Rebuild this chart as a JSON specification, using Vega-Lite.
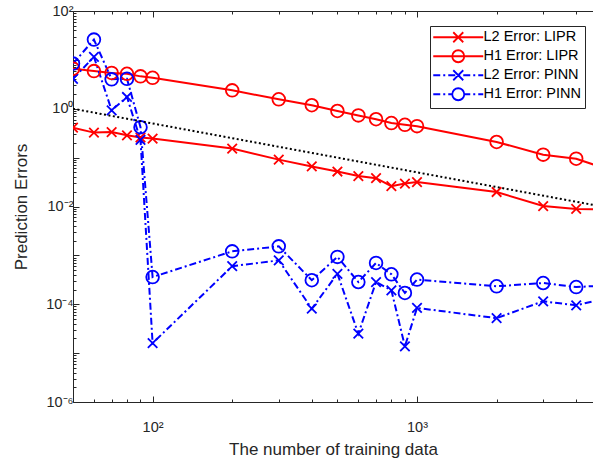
{
  "$schema": "https://vega.github.io/schema/vega-lite/v6.json",
  "width": 520,
  "height": 391,
  "autosize": {"type": "none"},
  "padding": {"left": 73, "top": 11, "right": 0, "bottom": 62},
  "background": "white",
  "config": {"view": {"stroke": null}},
  "datasets": {
    "errors": [
      {"n": 50, "err": 0.41, "series": "L2 Error: LIPR"},
      {"n": 60, "err": 0.325, "series": "L2 Error: LIPR"},
      {"n": 70, "err": 0.334, "series": "L2 Error: LIPR"},
      {"n": 80, "err": 0.286, "series": "L2 Error: LIPR"},
      {"n": 90, "err": 0.258, "series": "L2 Error: LIPR"},
      {"n": 100, "err": 0.245, "series": "L2 Error: LIPR"},
      {"n": 200, "err": 0.153, "series": "L2 Error: LIPR"},
      {"n": 300, "err": 0.091, "series": "L2 Error: LIPR"},
      {"n": 400, "err": 0.066, "series": "L2 Error: LIPR"},
      {"n": 500, "err": 0.052, "series": "L2 Error: LIPR"},
      {"n": 600, "err": 0.042, "series": "L2 Error: LIPR"},
      {"n": 700, "err": 0.038, "series": "L2 Error: LIPR"},
      {"n": 800, "err": 0.026, "series": "L2 Error: LIPR"},
      {"n": 900, "err": 0.0295, "series": "L2 Error: LIPR"},
      {"n": 1000, "err": 0.0316, "series": "L2 Error: LIPR"},
      {"n": 2000, "err": 0.0198, "series": "L2 Error: LIPR"},
      {"n": 3000, "err": 0.0102, "series": "L2 Error: LIPR"},
      {"n": 4000, "err": 0.0089, "series": "L2 Error: LIPR"},
      {"n": 5000, "err": 0.0088, "series": "L2 Error: LIPR"},
      {"n": 50, "err": 6.6, "series": "H1 Error: LIPR"},
      {"n": 60, "err": 5.9, "series": "H1 Error: LIPR"},
      {"n": 70, "err": 5.4, "series": "H1 Error: LIPR"},
      {"n": 80, "err": 5.2, "series": "H1 Error: LIPR"},
      {"n": 90, "err": 4.6, "series": "H1 Error: LIPR"},
      {"n": 100, "err": 4.3, "series": "H1 Error: LIPR"},
      {"n": 200, "err": 2.38, "series": "H1 Error: LIPR"},
      {"n": 300, "err": 1.56, "series": "H1 Error: LIPR"},
      {"n": 400, "err": 1.18, "series": "H1 Error: LIPR"},
      {"n": 500, "err": 0.9, "series": "H1 Error: LIPR"},
      {"n": 600, "err": 0.73, "series": "H1 Error: LIPR"},
      {"n": 700, "err": 0.61, "series": "H1 Error: LIPR"},
      {"n": 800, "err": 0.51, "series": "H1 Error: LIPR"},
      {"n": 900, "err": 0.47, "series": "H1 Error: LIPR"},
      {"n": 1000, "err": 0.44, "series": "H1 Error: LIPR"},
      {"n": 2000, "err": 0.209, "series": "H1 Error: LIPR"},
      {"n": 3000, "err": 0.115, "series": "H1 Error: LIPR"},
      {"n": 4000, "err": 0.095, "series": "H1 Error: LIPR"},
      {"n": 5000, "err": 0.063, "series": "H1 Error: LIPR"},
      {"n": 50, "err": 4.1, "series": "L2 Error: PINN"},
      {"n": 60, "err": 11.5, "series": "L2 Error: PINN"},
      {"n": 70, "err": 0.93, "series": "L2 Error: PINN"},
      {"n": 80, "err": 1.74, "series": "L2 Error: PINN"},
      {"n": 90, "err": 0.23, "series": "L2 Error: PINN"},
      {"n": 100, "err": 1.6e-5, "series": "L2 Error: PINN"},
      {"n": 200, "err": 6.0e-4, "series": "L2 Error: PINN"},
      {"n": 300, "err": 7.9e-4, "series": "L2 Error: PINN"},
      {"n": 400, "err": 8.1e-5, "series": "L2 Error: PINN"},
      {"n": 500, "err": 4.2e-4, "series": "L2 Error: PINN"},
      {"n": 600, "err": 2.5e-5, "series": "L2 Error: PINN"},
      {"n": 700, "err": 2.85e-4, "series": "L2 Error: PINN"},
      {"n": 800, "err": 1.93e-4, "series": "L2 Error: PINN"},
      {"n": 900, "err": 1.38e-5, "series": "L2 Error: PINN"},
      {"n": 1000, "err": 8.4e-5, "series": "L2 Error: PINN"},
      {"n": 2000, "err": 5.2e-5, "series": "L2 Error: PINN"},
      {"n": 3000, "err": 1.15e-4, "series": "L2 Error: PINN"},
      {"n": 4000, "err": 9.5e-5, "series": "L2 Error: PINN"},
      {"n": 5000, "err": 1.27e-4, "series": "L2 Error: PINN"},
      {"n": 50, "err": 8.4, "series": "H1 Error: PINN"},
      {"n": 60, "err": 26, "series": "H1 Error: PINN"},
      {"n": 70, "err": 4.0, "series": "H1 Error: PINN"},
      {"n": 80, "err": 4.1, "series": "H1 Error: PINN"},
      {"n": 90, "err": 0.42, "series": "H1 Error: PINN"},
      {"n": 100, "err": 3.6e-4, "series": "H1 Error: PINN"},
      {"n": 200, "err": 1.21e-3, "series": "H1 Error: PINN"},
      {"n": 300, "err": 1.53e-3, "series": "H1 Error: PINN"},
      {"n": 400, "err": 3.1e-4, "series": "H1 Error: PINN"},
      {"n": 500, "err": 9.3e-4, "series": "H1 Error: PINN"},
      {"n": 600, "err": 2.85e-4, "series": "H1 Error: PINN"},
      {"n": 700, "err": 7.0e-4, "series": "H1 Error: PINN"},
      {"n": 800, "err": 4.1e-4, "series": "H1 Error: PINN"},
      {"n": 900, "err": 1.7e-4, "series": "H1 Error: PINN"},
      {"n": 1000, "err": 3.2e-4, "series": "H1 Error: PINN"},
      {"n": 2000, "err": 2.33e-4, "series": "H1 Error: PINN"},
      {"n": 3000, "err": 2.72e-4, "series": "H1 Error: PINN"},
      {"n": 4000, "err": 2.25e-4, "series": "H1 Error: PINN"},
      {"n": 5000, "err": 2.4e-4, "series": "H1 Error: PINN"}
    ],
    "ref": [
      {"n": 50, "err": 1},
      {"n": 5000, "err": 0.01}
    ]
  },
  "encoding": {
    "y": {
      "field": "err",
      "type": "quantitative",
      "scale": {"type": "log", "domain": [1e-6, 100], "nice": false},
      "axis": {
        "title": "Prediction Errors",
        "grid": false,
        "values": [1e-6,2e-6,3e-6,4e-6,5e-6,6e-6,7e-6,8e-6,9e-6,1e-5,2e-5,3e-5,4e-5,5e-5,6e-5,7e-5,8e-5,9e-5,1e-4,2e-4,3e-4,4e-4,5e-4,6e-4,7e-4,8e-4,9e-4,0.001,0.002,0.003,0.004,0.005,0.006,0.007,0.008,0.009,0.01,0.02,0.03,0.04,0.05,0.06,0.07,0.08,0.09,0.1,0.2,0.3,0.4,0.5,0.6,0.7,0.8,0.9,1,2,3,4,5,6,7,8,9,10,20,30,40,50,60,70,80,90,100],
        "labelExpr": "datum.value==100?'10²':datum.value==1?'10⁰':datum.value==0.01?'10⁻²':datum.value==0.0001?'10⁻⁴':datum.value==0.000001?'10⁻⁶':''",
        "tickSize": {"condition": {"test": "datum.value==0.000001||datum.value==0.00001||datum.value==0.0001||datum.value==0.001||datum.value==0.01||datum.value==0.1||datum.value==1||datum.value==10||datum.value==100", "value": -6}, "value": -3},
        "labelPadding": 6,
        "labelOverlap": false,
        "labelFlush": false,
        "labelFont": "Liberation Sans",
        "labelFontSize": 14.5,
        "labelColor": "#262626",
        "titleFont": "Liberation Sans",
        "titleFontSize": 17,
        "titleFontWeight": "normal",
        "titleColor": "#262626",
        "titlePadding": 15,
        "domainColor": "#262626",
        "tickColor": "#262626",
        "domainWidth": 1,
        "tickWidth": 1
      }
    }
  },
  "layer": [
    {
      "data": {"name": "errors"},
      "transform": [{"filter": {"field": "series", "oneOf": ["L2 Error: LIPR", "H1 Error: LIPR"]}}],
      "mark": {"type": "line", "clip": true, "strokeWidth": 2},
      "encoding": {
        "x": {
          "field": "n",
          "type": "quantitative",
          "scale": {"type": "log", "domain": [50, 4630], "nice": false},
          "axis": {
            "title": "The number of training data",
            "grid": false,
            "orient": "bottom",
            "values": [50,60,70,80,90,100,200,300,400,500,600,700,800,900,1000,2000,3000,4000],
            "labelExpr": "datum.value==100?'10²':datum.value==1000?'10³':''",
            "tickSize": {"condition": {"test": "datum.value==100||datum.value==1000", "value": -6}, "value": -3},
            "labelPadding": 24,
            "labelOverlap": false,
            "labelFlush": false,
            "labelFont": "Liberation Sans",
            "labelFontSize": 14.5,
            "labelColor": "#262626",
            "titleFont": "Liberation Sans",
            "titleFontSize": 17,
            "titleFontWeight": "normal",
            "titleColor": "#262626",
            "titlePadding": 5,
            "domainColor": "#262626",
            "tickColor": "#262626",
            "domainWidth": 1,
            "tickWidth": 1
          }
        },
        "color": {
          "field": "series",
          "type": "nominal",
          "scale": {"domain": ["L2 Error: LIPR", "H1 Error: LIPR", "L2 Error: PINN", "H1 Error: PINN"], "range": ["#ff0000", "#ff0000", "#0000ff", "#0000ff"]},
          "legend": {
            "title": null,
            "orient": "none",
            "legendX": 357,
            "legendY": 15,
            "strokeColor": "#262626",
            "fillColor": "white",
            "padding": 4,
            "rowPadding": 0,
            "symbolSize": 100,
            "symbolStrokeWidth": 1.8,
            "symbolOpacity": 1,
            "labelOffset": 35,
            "labelFont": "Liberation Sans",
            "labelFontSize": 14.5,
            "labelColor": "#000000"
          }
        }
      }
    },
    {
      "data": {"name": "errors"},
      "transform": [{"filter": {"field": "series", "oneOf": ["L2 Error: PINN", "H1 Error: PINN"]}}],
      "mark": {"type": "line", "clip": true, "strokeWidth": 2, "strokeDash": [7, 3, 2, 3]},
      "encoding": {
        "x": {"field": "n", "type": "quantitative", "axis": null},
        "color": {"field": "series", "type": "nominal"}
      }
    },
    {
      "data": {"name": "errors"},
      "transform": [{"filter": {"field": "series", "oneOf": ["L2 Error: LIPR", "L2 Error: PINN"]}}],
      "mark": {"type": "point", "clip": true, "filled": false, "strokeWidth": 1.8, "opacity": 1, "shape": "M-1,-1L1,1M-1,1L1,-1", "size": 90},
      "encoding": {
        "x": {"field": "n", "type": "quantitative", "axis": null},
        "color": {"field": "series", "type": "nominal"}
      }
    },
    {
      "data": {"name": "errors"},
      "transform": [{"filter": {"field": "series", "oneOf": ["H1 Error: LIPR", "H1 Error: PINN"]}}],
      "mark": {"type": "point", "clip": true, "filled": false, "strokeWidth": 1.8, "opacity": 1, "shape": "circle", "size": 161},
      "encoding": {
        "x": {"field": "n", "type": "quantitative", "axis": null},
        "color": {"field": "series", "type": "nominal"}
      }
    },
    {
      "data": {"name": "errors"},
      "transform": [{"filter": "datum.n < 0"}],
      "mark": {"type": "point", "clip": true, "filled": false, "strokeWidth": 1.8, "opacity": 1, "size": 100},
      "encoding": {
        "x": {"field": "n", "type": "quantitative", "axis": null},
        "color": {"field": "series", "type": "nominal"},
        "shape": {
          "field": "series",
          "type": "nominal",
          "scale": {
            "domain": ["L2 Error: LIPR", "H1 Error: LIPR", "L2 Error: PINN", "H1 Error: PINN"],
            "range": [
              "M-1.6,0H8.4M2.4,-1L4.4,1M2.4,1L4.4,-1",
              "M-1.6,0H8.4M2.2,0A1.2,1.2,0,0,1,3.4,-1.2A1.2,1.2,0,0,1,4.6,0A1.2,1.2,0,0,1,3.4,1.2A1.2,1.2,0,0,1,2.2,0",
              "M-1.6,0H-0.2M0.4,0H0.8M1.4,0H2.8M3.4,0H3.8M4.4,0H5.8M6.4,0H6.8M7.4,0H8.4M2.4,-1L4.4,1M2.4,1L4.4,-1",
              "M-1.6,0H-0.2M0.4,0H0.8M1.4,0H2.2M4.6,0H5.8M6.4,0H6.8M7.4,0H8.4M2.2,0A1.2,1.2,0,0,1,3.4,-1.2A1.2,1.2,0,0,1,4.6,0A1.2,1.2,0,0,1,3.4,1.2A1.2,1.2,0,0,1,2.2,0"
            ]
          }
        }
      }
    },
    {
      "data": {"name": "ref"},
      "mark": {"type": "line", "clip": true, "color": "#000000", "strokeWidth": 2, "strokeDash": [2, 2.5]},
      "encoding": {
        "x": {
          "field": "n",
          "type": "quantitative",
          "axis": {
            "orient": "top",
            "title": null,
            "grid": false,
            "labels": false,
            "values": [50,60,70,80,90,100,200,300,400,500,600,700,800,900,1000,2000,3000,4000],
            "tickSize": {"condition": {"test": "datum.value==100||datum.value==1000", "value": -6}, "value": -3},
            "domainColor": "#262626",
            "tickColor": "#262626",
            "domainWidth": 1,
            "tickWidth": 1
          }
        }
      }
    }
  ],
  "resolve": {"axis": {"x": "independent"}}
}
